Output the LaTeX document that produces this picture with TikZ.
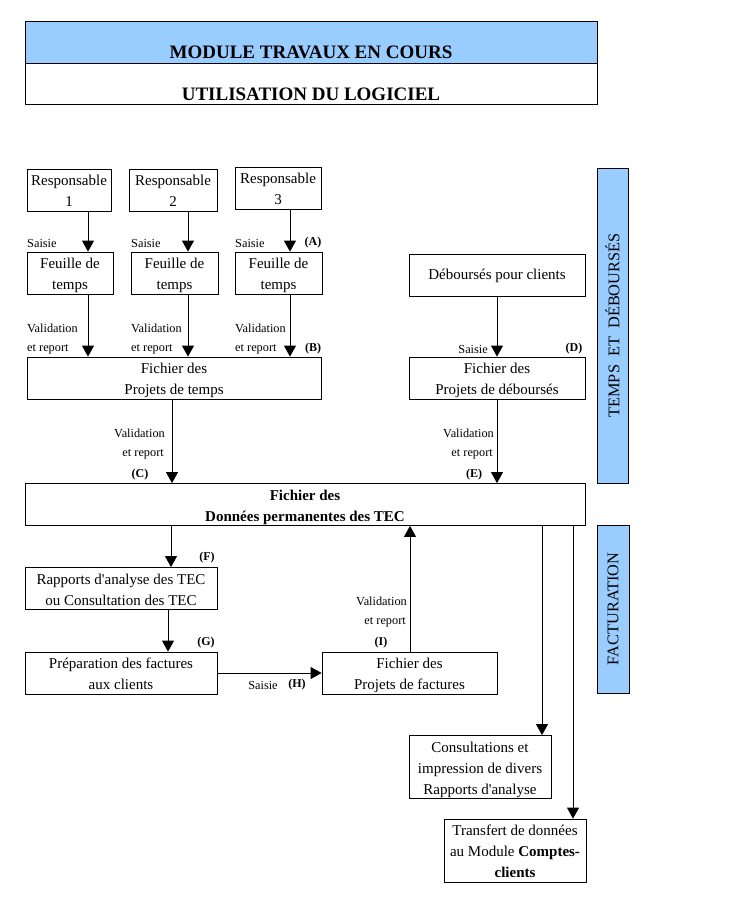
\documentclass[tikz,border=0pt]{standalone}
\usepackage{fontspec}
\setmainfont{Liberation Serif}
\usetikzlibrary{arrows.meta}
\definecolor{bandblue}{HTML}{99CCFF}
\newcommand{\boxtxt}[1]{\raisebox{-2pt}[\height][\depth]{\begin{tabular}{@{}c@{}}#1\end{tabular}}}
\begin{document}
\begin{tikzpicture}[x=1pt,y=-1pt,
  box/.style={draw, line width=0.8pt, inner sep=0pt, align=center, font=\fontsize{15}{21}\selectfont},
  bbox/.style={box, font=\fontsize{15}{21}\selectfont\bfseries},
  lbl/.style={inner sep=0pt, font=\fontsize{12.3}{14}\selectfont},
  tag/.style={inner sep=0pt, font=\fontsize{12}{14}\selectfont\bfseries},
  arr/.style={-{Triangle[length=11pt,width=12pt]}, line width=0.8pt},
  bar/.style={draw, fill=bandblue, line width=0.8pt, inner sep=0pt},
  htxt/.style={inner sep=0pt, font=\fontsize{19}{22}\selectfont\bfseries},
  vtxt/.style={inner sep=0pt, rotate=90, font=\fontsize{16.3}{20}\selectfont}]
\useasboundingbox (0,0) rectangle (737,904);
% header
\node[bar, minimum width=572, minimum height=42, anchor=north west] (band) at (25,21) {};
\node[draw, line width=0.8pt, inner sep=0pt, minimum width=572, minimum height=41, anchor=north west] (hdr) at (25,63) {};
\node[htxt] (t1) at (311,52) {MODULE TRAVAUX EN COURS};
\node[htxt] (t2) at (311,94) {UTILISATION DU LOGICIEL};
% side bars
\node[bar, minimum width=31, minimum height=315] (bar1) at (612.5,325.5) {};
\node[vtxt] (bt1) at (bar1.center) {TEMPS\ \ ET\ \ DÉBOURSÉS};
\node[bar, minimum width=32, minimum height=168] (bar2) at (613,609) {};
\node[vtxt] (bt2) at (bar2.center) {FACTURATION};
% boxes
\node[box, minimum width=84, minimum height=42] (r1) at (69,190) {\boxtxt{Responsable\\1}};
\node[box, minimum width=88, minimum height=42] (r2) at (173,190) {\boxtxt{Responsable\\2}};
\node[box, minimum width=86, minimum height=42] (r3) at (278,188) {\boxtxt{Responsable\\3}};
\node[box, minimum width=86, minimum height=42] (f1) at (70,273) {\boxtxt{Feuille de\\temps}};
\node[box, minimum width=87, minimum height=42] (f2) at (174.5,273) {\boxtxt{Feuille de\\temps}};
\node[box, minimum width=87, minimum height=42] (f3) at (278.5,273) {\boxtxt{Feuille de\\temps}};
\node[box, minimum width=294, minimum height=42] (pt) at (174,378) {\boxtxt{Fichier des\\Projets de temps}};
\node[box, minimum width=176, minimum height=42] (deb) at (497,275) {\rule{0pt}{12pt}Déboursés pour clients};
\node[box, minimum width=176, minimum height=42] (pd) at (497,378) {\boxtxt{Fichier des\\Projets de déboursés}};
\node[bbox, minimum width=560, minimum height=41] (tec) at (305,504.5) {\boxtxt{Fichier des\\Données permanentes des TEC}};
\node[box, minimum width=192, minimum height=41] (rap) at (121,588.5) {\boxtxt{Rapports d\textquotesingle analyse des TEC\\ou Consultation des TEC}};
\node[box, minimum width=192, minimum height=42] (prep) at (121,673) {\boxtxt{Préparation des factures\\aux clients}};
\node[box, minimum width=175, minimum height=42] (pf) at (409.5,673) {\boxtxt{Fichier des\\Projets de factures}};
\node[box, minimum width=142, minimum height=62] (cons) at (480,767) {\boxtxt{Consultations et\\impression de divers\\Rapports d\textquotesingle analyse}};
\node[box, minimum width=142, minimum height=63] (tr) at (515,850.5) {\boxtxt{Transfert de données\\au Module \textbf{Comptes-}\\\textbf{clients}}};
% arrow columns
\coordinate (a1) at (88,0);
\coordinate (a2) at (188,0);
\coordinate (a3) at (290,0);
\coordinate (ac) at (172,0);
\coordinate (af) at (171,0);
\coordinate (ag) at (168,0);
\coordinate (ad) at (497,0);
\coordinate (ai) at (410,0);
\coordinate (aj) at (542,0);
\coordinate (ak) at (573,0);
% arrows
\draw[arr] (r1.south -| a1) -- (f1.north -| a1);
\draw[arr] (r2.south -| a2) -- (f2.north -| a2);
\draw[arr] (r3.south -| a3) -- (f3.north -| a3);
\draw[arr] (f1.south -| a1) -- (pt.north -| a1);
\draw[arr] (f2.south -| a2) -- (pt.north -| a2);
\draw[arr] (f3.south -| a3) -- (pt.north -| a3);
\draw[arr] (pt.south -| ac) -- (tec.north -| ac);
\draw[arr] (deb.south -| ad) -- (pd.north -| ad);
\draw[arr] (pd.south -| ad) -- (tec.north -| ad);
\draw[arr] (tec.south -| af) -- (rap.north -| af);
\draw[arr] (rap.south -| ag) -- (prep.north -| ag);
\draw[arr] (prep.east) -- (pf.west);
\draw[arr] (pf.north -| ai) -- (tec.south -| ai);
\draw[arr] (tec.south -| aj) -- (cons.north -| aj);
\draw[arr] (tec.south -| ak) -- (tr.north -| ak);
% labels
\node[lbl, anchor=west] (s1) at (27,243) {Saisie};
\node[lbl, anchor=west] (s2) at (131,243) {Saisie};
\node[lbl, anchor=west] (s3) at (235,243) {Saisie};
\node[tag] (tA) at (313,243) {(A)};
\node[lbl, anchor=west] (v1) at (27,328) {Validation};
\node[lbl, anchor=west] (e1) at (27,349) {et report};
\node[lbl, anchor=west] (v2) at (131,328) {Validation};
\node[lbl, anchor=west] (e2) at (131,349) {et report};
\node[lbl, anchor=west] (v3) at (235,328) {Validation};
\node[lbl, anchor=west] (e3) at (235,349) {et report};
\node[tag] (tB) at (313,349) {(B)};
\node[lbl, anchor=east] (sD) at (488,349) {Saisie};
\node[tag] (tD) at (574,349) {(D)};
\node[lbl, anchor=east] (vC) at (165,433) {Validation};
\node[lbl, anchor=east] (eC) at (164,454) {et report};
\node[tag] (tC) at (140,475) {(C)};
\node[lbl, anchor=east] (vE) at (494,433) {Validation};
\node[lbl, anchor=east] (eE) at (493,454) {et report};
\node[tag] (tE) at (474,475) {(E)};
\node[tag] (tF) at (207,558) {(F)};
\node[tag] (tG) at (206,643) {(G)};
\node[lbl, anchor=east] (vI) at (407,601) {Validation};
\node[lbl, anchor=east] (eI) at (406,622) {et report};
\node[tag] (tI) at (381,643) {(I)};
\node[lbl] (sH) at (263,685) {Saisie};
\node[tag] (tH) at (297,685) {(H)};
\end{tikzpicture}
\end{document}
